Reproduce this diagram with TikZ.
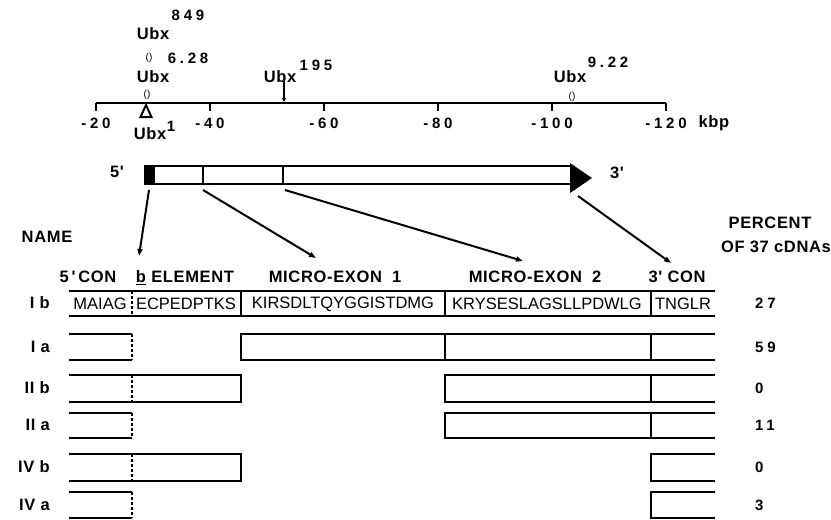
\documentclass[tikz,border=0pt]{standalone}
\usepackage{fontspec}
\setmainfont{Liberation Sans}
\newfontfamily\numfont[LetterSpace=25]{Liberation Sans}
\newfontfamily\labfont[LetterSpace=4]{Liberation Sans}
\usetikzlibrary{arrows.meta}

\begin{document}
\begin{tikzpicture}[
    x=1pt, y=-1pt,
    lab/.style={font=\labfont\bfseries\fontsize{16.5}{18}\selectfont, inner sep=0pt},
    num/.style={font=\numfont\bfseries\fontsize{15}{17}\selectfont, inner sep=0pt},
    seq/.style={font=\fontsize{16.5}{18}\selectfont, inner sep=0pt},
    brk/.style={font=\fontsize{10}{11}\selectfont, inner sep=0pt},
    box/.style={line width=1.8pt},
    sep/.style={line width=1.2pt, dash pattern=on 3pt off 2pt},
    arrow/.style={-{Triangle[length=7pt,width=5pt]}, line width=2pt}
]
\useasboundingbox (0,0) rectangle (831,520);

% kbp map
\draw[line width=2pt] (96,103) -- (666,103);
\foreach \v in {20,40,...,120}
{
  \draw[line width=2pt] ({96+(\v-20)*5.7},103) -- ({96+(\v-20)*5.7},111);
  \node[num] (tick\v) at ({96+(\v-20)*5.7},123) {-\v};
}
\node[lab] (kbp) at (714,123) {kbp};

% breakpoints
\node[lab] (u849) at (153,34) {Ubx};
\node[num] (s849) at (188,15) {849};
\node[brk] (b849) at (149,58) {()};
\node[num] (s628) at (188,58) {6.28};
\node[lab] (u628) at (153,77) {Ubx};
\node[brk] (b628) at (147,95) {()};
\draw[line width=2pt] (140.5,117) -- (146,105) -- (151.5,117) -- cycle;
\node[lab] (u1) at (150,134) {Ubx};
\node[num] (s1) at (171,126) {1};
\node[lab] (u195) at (280,77) {Ubx};
\node[num] (s195) at (316,65) {195};
\coordinate (b195) at (284,102);
\draw[-{Triangle[length=4pt,width=4pt]}, line width=1.2pt] ([xshift=4pt,yshift=2pt]u195.south) -- (b195);
\node[lab] (u922) at (570,77) {Ubx};
\node[num] (s922) at (608,62) {9.22};
\node[brk] (b922) at (572,97) {()};

% transcript
\node[lab] (five) at (117,172) {5'};
\fill (145,166) rectangle (155,184);
\draw[box] (145,166) rectangle (571,184);
\draw[box] (203,166) -- (203,184) (283,166) -- (283,184);
\fill (570,163) -- (592,178) -- (570,193) -- cycle;
\node[lab] (three) at (617,173) {3'};

% column headings
\node[lab] (name) at (47,237) {NAME};
\node[lab] (pcent) at (770,223) {PERCENT};
\node[lab] (ofcdna) at (776,247) {OF 37 cDNAs};
\node[lab, anchor=base] (con5) at (88,282.5) {5\,'\,CON};
\node[lab, anchor=base] (belem) at (185,282.5) {\underline{b} ELEMENT};
\node[lab, anchor=base] (mex1) at (335,282.5) {MICRO-EXON\hspace{10pt}1};
\node[lab, anchor=base] (mex2) at (535,282.5) {MICRO-EXON\hspace{10pt}2};
\node[lab, anchor=base] (con3) at (677,282.5) {3' CON};

\coordinate (g1) at (149,190);
\coordinate (g2) at (203,190);
\coordinate (g3) at (285,190);
\coordinate (g4) at (578,196);
\coordinate (e1) at (139,256);
\coordinate (e2) at (316,258);
\coordinate (e3) at (523,261);
\coordinate (e4) at (671,263);
\draw[arrow] (g1) -- (e1);
\draw[arrow] (g2) -- (e2);
\draw[arrow] (g3) -- (e3);
\draw[arrow] (g4) -- (e4);

% I b
\draw[box] (69,291) -- (715,291) (69,316) -- (715,316);
\draw[box] (241,291) -- (241,316) (445,291) -- (445,316) (651,291) -- (651,316);
\node[seq] (maiag) at (100,304) {MAIAG};
\node[seq] (ecpe) at (186,304) {ECPEDPTKS};
\node[seq] (kirs) at (343,304) {KIRSDLTQYGGISTDMG};
\node[seq] (krys) at (547,304) {KRYSESLAGSLLPDWLG};
\node[seq] (tnglr) at (683,304) {TNGLR};
% I a
\draw[box] (69,334) -- (132,334) (69,360) -- (132,360);
\draw[box] (715,334) -- (241,334) -- (241,360) -- (715,360);
\draw[box] (445,334) -- (445,360) (651,334) -- (651,360);
% II b
\draw[box] (69,375) -- (241,375) -- (241,402) -- (69,402);
\draw[box] (715,375) -- (445,375) -- (445,402) -- (715,402);
\draw[box] (651,375) -- (651,402);
% II a
\draw[box] (69,413) -- (132,413) (69,438) -- (132,438);
\draw[box] (715,413) -- (445,413) -- (445,438) -- (715,438);
\draw[box] (651,413) -- (651,438);
% IV b
\draw[box] (69,454) -- (241,454) -- (241,481) -- (69,481);
\draw[box] (715,454) -- (651,454) -- (651,481) -- (715,481);
% IV a
\draw[box] (69,492) -- (132,492) (69,518) -- (132,518);
\draw[box] (715,492) -- (651,492) -- (651,518) -- (715,518);

\foreach \t/\b in {291/316,334/360,375/402,413/438,454/481,492/518}
  \draw[sep] (132,\t) -- (132,\b);

\foreach \rname/\y/\pc [count=\i] in {I b/303/27,I a/347/59,II b/388/0,II a/425/11,IV b/467/0,IV a/505/3}
{
  \node[lab, anchor=east] (row\i) at (50,\y) {\rname};
  \node[num, anchor=west] (pc\i) at (755,\y) {\pc};
}
\end{tikzpicture}
\end{document}
